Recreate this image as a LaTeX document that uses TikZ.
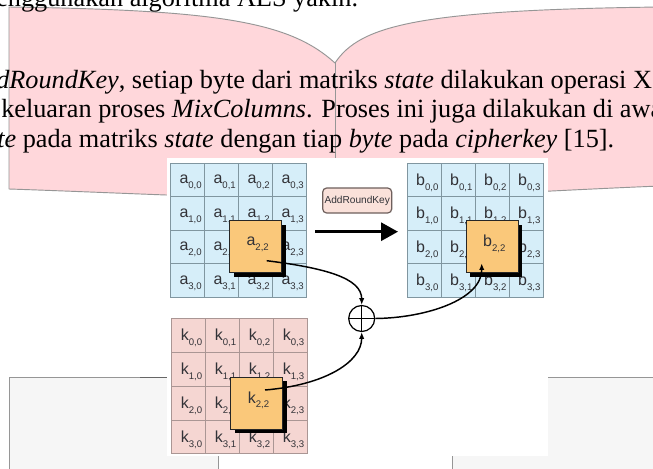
\documentclass[tikz,border=0pt]{standalone}
\usepackage{fontspec}
\setmainfont{Liberation Serif}
\setsansfont{Liberation Sans}
\usetikzlibrary{arrows.meta,shadows}
\definecolor{pagepink}{RGB}{255,215,219}
\definecolor{boxgray}{RGB}{246,246,246}
\definecolor{edgec}{RGB}{150,150,150}
\definecolor{blueA}{RGB}{214,238,249}
\definecolor{gridA}{RGB}{128,150,160}
\definecolor{pinkK}{RGB}{245,214,210}
\definecolor{gridK}{RGB}{170,150,148}
\definecolor{orangeC}{RGB}{250,200,122}
\definecolor{labelc}{RGB}{50,50,55}
\definecolor{akfill}{RGB}{250,225,218}
\definecolor{akdraw}{RGB}{110,95,92}
\newcommand{\cellfont}{\sffamily\fontsize{12}{13}\selectfont}
\newcommand{\sbs}[1]{\raisebox{-3.6pt}{\fontsize{7.2}{8}\selectfont #1}}
\newcommand{\bodyfont}{\fontsize{19.7}{22}\selectfont}
\begin{document}
\begin{tikzpicture}[x=0.75pt,y=-0.75pt,
  edge/.style={draw=edgec,line width=0.7pt},
  txt/.style={anchor=base west,inner sep=0pt,font=\bodyfont,text=black},
  cellA/.style={draw=gridA,fill=blueA,minimum width=25.5pt,minimum height=25.125pt,inner sep=0pt,line width=0.6pt},
  cellK/.style={draw=gridK,fill=pinkK,minimum width=25.5pt,minimum height=25.4pt,inner sep=0pt,line width=0.6pt},
  lab/.style={inner sep=0pt,text=labelc,font=\cellfont},
  obox/.style={draw=black!85,fill=orangeC,minimum size=39pt,inner sep=0pt,line width=0.6pt,
    drop shadow={shadow xshift=3pt,shadow yshift=-3pt,fill=black,opacity=1}},
  conn/.style={line width=1.1pt,-{Latex[length=5pt,width=4pt]}}]
\useasboundingbox (0,0) rectangle (653,468);
\clip (0,0) rectangle (653,468);
\fill[white] (0,0) rectangle (653,468);
% bottom page boxes
\fill[boxgray] (9,377) rectangle (218,475);
\fill[boxgray] (452,377) rectangle (660,475);
\draw[edge] (9,475) -- (9,377) -- (218,377) -- (218,475);
\draw[edge] (452,475) -- (452,377) -- (660,377);
\draw[draw=black!60,line width=0.8pt] (140,377.5) -- (167,377.5);
% pink pages
\fill[pagepink] (9,7) .. controls (220,10) and (290,22) .. (335,63) -- (335,200) .. controls (220,198) and (100,192) .. (9,189) -- cycle;
\fill[pagepink] (335,63) .. controls (360,25) and (420,10) .. (660,7) -- (660,186) .. controls (560,190) and (450,197) .. (335,200) -- cycle;
\draw[edge] (9,189) -- (9,7) .. controls (220,10) and (290,22) .. (335,63) .. controls (360,25) and (420,10) .. (660,7);
\draw[edge] (335,63) -- (335,200);
\draw[edge] (9,189) .. controls (100,192) and (220,198) .. (335,200) .. controls (450,197) and (560,190) .. (660,186);
% text
\node[txt] (t0) at (-4,6) {enggunakan algoritma AES yakin.};
\node[txt] (t1) at (-4,88) {\textit{dRoundKey}, setiap byte dari matriks \textit{state} dilakukan operasi X};
\node[txt] (t2) at (1,117.5) {keluaran proses \textit{MixColumns}. Proses ini juga dilakukan di awa};
\node[txt] (t3) at (-3,147) {\textit{te} pada matriks \textit{state} dengan tiap \textit{byte} pada \textit{cipherkey} [15].};
% diagram background
\fill[white] (167,158) rectangle (548,456);
% matrices
\foreach \r in {0,1,2,3}{
  \foreach \c in {0,1,2,3}{
    \node[cellA] (a\r\c) at ({187.7+34*\c},{179.75+33.5*\r}) {};
    \node[lab] (la\r\c) at ([xshift=2.2pt,yshift=-2.2pt]a\r\c.center) {a\sbs{\r,\c}};
    \node[cellA] (b\r\c) at ({424.3+34*\c},{179.75+33.5*\r}) {};
    \node[lab] (lb\r\c) at ([xshift=2.2pt,yshift=-2.2pt]b\r\c.center) {b\sbs{\r,\c}};
    \node[cellK] (k\r\c) at ({188.5+34*\c},{335.2+33.9*\r}) {};
    \node[lab] (lk\r\c) at ([xshift=2.2pt,yshift=-2.2pt]k\r\c.center) {k\sbs{\r,\c}};
  }
}
% highlighted bytes
\node[obox] (oa) at (a22) {};
\node[lab] (loa) at ([xshift=1.5pt,yshift=2pt]oa.center) {a\sbs{2,2}};
\node[obox] (ob) at (b22) {};
\node[lab] (lob) at ([xshift=1.5pt,yshift=2pt]ob.center) {b\sbs{2,2}};
\node[obox] (ok) at (k22) {};
\node[lab] (lok) at ([xshift=1.5pt,yshift=2pt]ok.center) {k\sbs{2,2}};
% AddRoundKey label and arrow
\node[draw=akdraw,fill=akfill,rounded corners=3pt,minimum width=51.75pt,minimum height=18.75pt,
  inner sep=0pt,line width=0.9pt,font=\sffamily\fontsize{7.6}{8}\selectfont,text=labelc] (ark) at (357.2,200.5) {AddRoundKey};
\coordinate (arL) at (315,231.7);
\coordinate (arR) at (398,231.7);
\draw[line width=2.3pt,-{Triangle[length=12.75pt,width=13.5pt]}] (arL) -- (arR);
% XOR
\node[draw,circle,minimum size=19.5pt,inner sep=0pt,fill=white,line width=0.9pt] (xor) at (361.7,318.5) {};
\draw[line width=0.9pt] (xor.north) -- (xor.south) (xor.west) -- (xor.east);
\coordinate (as) at (266.7,260.7);
\coordinate (ks) at (265,390);
\coordinate (bt) at (481.7,263.3);
\draw[conn] (as) .. controls (325,268) and (361.7,278) .. (xor.north);
\draw[conn] (ks) .. controls (325,385) and (361.7,362) .. (xor.south);
\draw[conn] (xor.east) .. controls (425,318) and (482,300) .. (bt);
\end{tikzpicture}
\end{document}
